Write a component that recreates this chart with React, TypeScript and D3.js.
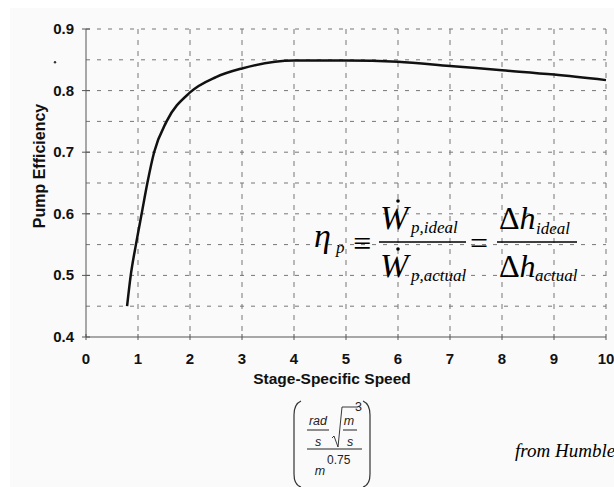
import React from 'react'
import * as d3 from 'd3'

// stage-specific speed vs pump efficiency
const speed = [0.79, 0.86, 0.96, 1.07, 1.18, 1.31, 1.55, 2.0, 2.5, 3, 4, 5, 6, 7, 8, 9, 10]
const efficiency = [0.45, 0.5, 0.55, 0.6, 0.65, 0.7, 0.75, 0.797, 0.822, 0.836, 0.849, 0.849, 0.847, 0.84, 0.833, 0.826, 0.817]

const xTicks = [0, 1, 2, 3, 4, 5, 6, 7, 8, 9, 10]
const yTicks = [0.4, 0.5, 0.6, 0.7, 0.8, 0.9]
const yGrid = [0.45, 0.5, 0.55, 0.6, 0.65, 0.7, 0.75, 0.8, 0.85, 0.9]

const sans = 'Liberation Sans, Arial, sans-serif'
const serif = 'Liberation Serif, Times New Roman, serif'

export default function App() {
  const width = 614
  const height = 487

  const x = d3.scaleLinear().domain([0, 10]).range([86, 606])
  const y = d3.scaleLinear().domain([0.4, 0.9]).range([337, 29])

  const pts = speed.map((s, i) => [s, efficiency[i]] as [number, number])
  const line = d3.line<[number, number]>()
    .x((d) => x(d[0]))
    .y((d) => y(d[1]))
    .curve(d3.curveMonotoneX)

  return (
    <svg width={width} height={height} style={{ position: 'absolute', left: 0, top: 0, background: '#fff' }}>
      <rect x={10} y={8} width={width - 10} height={height - 8} fill="#fafafa" />

      {/* grid */}
      {yGrid.map((v) => (
        <line key={'h' + v} x1={x(0)} x2={x(10)} y1={y(v)} y2={y(v)}
          stroke="#777" strokeWidth={1} strokeDasharray="4,7" />
      ))}
      {xTicks.filter((v) => v > 0).map((v) => (
        <line key={'v' + v} x1={x(v)} x2={x(v)} y1={y(0.9)} y2={y(0.4)}
          stroke="#777" strokeWidth={1} strokeDasharray="5,6" />
      ))}

      {/* axes */}
      <line x1={x(0)} x2={x(0)} y1={y(0.9)} y2={y(0.4)} stroke="#555" strokeWidth={1} />
      <line x1={x(0)} x2={x(10)} y1={y(0.4)} y2={y(0.4)} stroke="#555" strokeWidth={1.2} />
      {yTicks.map((v) => (
        <g key={'yt' + v}>
          <line x1={x(0) - 4} x2={x(0) + 4} y1={y(v)} y2={y(v)} stroke="#555" />
          <text x={74} y={y(v) + 5} textAnchor="end" fontFamily={sans} fontWeight="bold" fontSize={15} fill="#111">
            {v.toFixed(1)}
          </text>
        </g>
      ))}
      {xTicks.map((v) => (
        <g key={'xt' + v}>
          <line x1={x(v)} x2={x(v)} y1={y(0.4) - 3} y2={y(0.4) + 3} stroke="#555" />
          <text x={x(v)} y={364} textAnchor="middle" fontFamily={sans} fontWeight="bold" fontSize={15} fill="#111">
            {v}
          </text>
        </g>
      ))}
      <circle cx={55} cy={y(0.85) + 2.5} r={1.2} fill="#333" />

      <text x={332} y={384} textAnchor="middle" fontFamily={sans} fontWeight="bold" fontSize={15.5} fill="#111">
        Stage-Specific Speed
      </text>
      <text transform={`translate(45, 166) rotate(-90)`} textAnchor="middle" fontFamily={sans} fontWeight="bold" fontSize={16} fill="#111">
        Pump Efficiency
      </text>

      {/* curve */}
      <path d={line(pts) ?? ''} fill="none" stroke="#111" strokeWidth={2.5} />

      {/* efficiency definition */}
      <g fontFamily={serif} fill="#000">
        <text x={314} y={247} fontSize={34} fontStyle="italic">η</text>
        <text x={336} y={253} fontSize={17} fontStyle="italic">p</text>
        <text x={353} y={254} fontSize={32}>≡</text>
        <line x1={379} x2={466} y1={242} y2={242} stroke="#000" strokeWidth={1.4} />
        <text x={380} y={229} fontSize={34} fontStyle="italic">W</text>
        <circle cx={398} cy={201} r={1.8} />
        <text x={411} y={233} fontSize={17} fontStyle="italic">p,ideal</text>
        <text x={380} y={277} fontSize={34} fontStyle="italic">W</text>
        <circle cx={398} cy={249} r={1.8} />
        <text x={411} y={281} fontSize={17} fontStyle="italic">p,actual</text>
        <text x={470} y={254} fontSize={32}>=</text>
        <line x1={497} x2={577} y1={242} y2={242} stroke="#000" strokeWidth={1.4} />
        <text x={499} y={229} fontSize={32}>Δ<tspan fontStyle="italic">h</tspan></text>
        <text x={536} y={234} fontSize={17} fontStyle="italic">ideal</text>
        <text x={499} y={277} fontSize={32}>Δ<tspan fontStyle="italic">h</tspan></text>
        <text x={535} y={281} fontSize={17} fontStyle="italic">actual</text>
      </g>

      {/* units */}
      <g fontFamily={sans} fontStyle="italic" fill="#222" stroke="none">
        <path d="M301,401 Q294,404 294,415 L294,474 Q294,485 301,487" fill="none" stroke="#333" strokeWidth={1.2} />
        <path d="M363,401 Q370,404 370,415 L370,474 Q370,485 363,487" fill="none" stroke="#333" strokeWidth={1.2} />
        <text x={318} y={425} textAnchor="middle" fontSize={12.5}>rad</text>
        <line x1={307} x2={329} y1={430} y2={430} stroke="#222" strokeWidth={1} />
        <text x={318} y={446} textAnchor="middle" fontSize={12.5}>s</text>
        <path d="M332,438 L334,436 L338,447 L342,407 L358,407" fill="none" stroke="#222" strokeWidth={0.9} />
        <text x={349} y={425} textAnchor="middle" fontSize={12.5}>m</text>
        <text x={355} y={411} fontSize={12.5} fontStyle="normal">3</text>
        <line x1={343} x2={357} y1={430} y2={430} stroke="#222" strokeWidth={1} />
        <text x={350} y={446} textAnchor="middle" fontSize={12.5}>s</text>
        <line x1={307} x2={362} y1={449} y2={449} stroke="#222" strokeWidth={1.2} />
        <text x={320} y={475} textAnchor="middle" fontSize={12.5}>m</text>
        <text x={327} y={464} fontSize={12} fontStyle="normal">0.75</text>
      </g>

      <text x={515} y={457} fontFamily={serif} fontStyle="italic" fontSize={19} fill="#000">from Humble</text>
    </svg>
  )
}
